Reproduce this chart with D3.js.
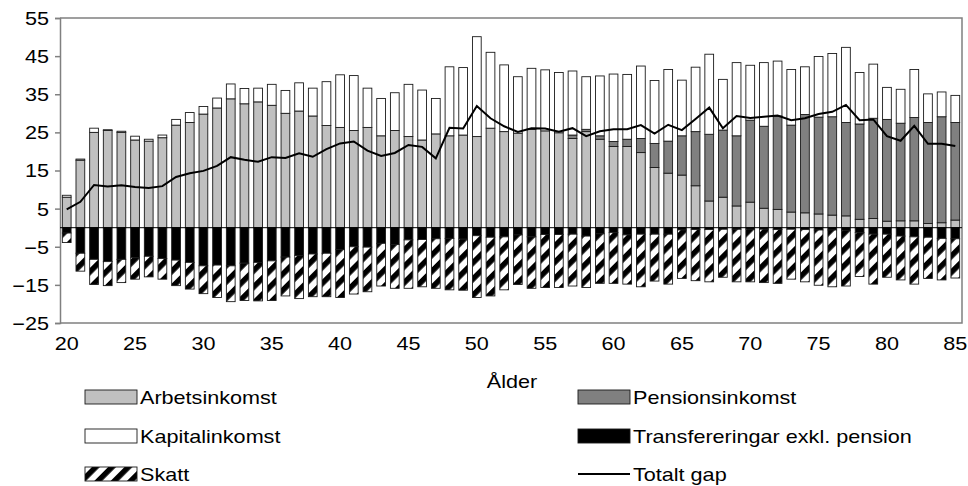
<!DOCTYPE html>
<html lang="sv">
<head>
  <meta charset="utf-8" />
  <title>Gap per ålder</title>
  <script src="https://cdn.jsdelivr.net/npm/d3@7"></script>
  <style>
    html,body{margin:0;padding:0;background:#fff;}
    svg{display:block;font-family:"Liberation Sans",Arial,sans-serif;}
  </style>
</head>
<body>
<svg id="chart" width="968" height="486"></svg>
<script>
// ålder 20..85
const ages = d3.range(20, 86);
const yTicks = [-25, -15, -5, 5, 15, 25, 35, 45, 55];
const xLabels = [20, 25, 30, 35, 40, 45, 50, 55, 60, 65, 70, 75, 80, 85];

const arbete = [8.0,17.7,25.0,25.5,25.0,23.0,22.7,23.6,26.9,27.6,29.8,31.4,33.8,32.5,33.0,32.1,30.0,30.6,29.3,26.8,
  26.3,25.5,26.3,24.1,25.5,23.9,23.0,24.6,24.1,24.3,23.9,26.1,25.2,24.8,25.8,25.4,24.9,23.4,25.2,23.2,
  21.3,21.3,19.7,15.8,14.3,13.8,11.0,7.0,8.0,5.7,6.7,5.1,4.8,4.1,3.9,3.6,3.3,3.1,2.2,2.4,
  1.7,1.8,1.8,1.1,1.3,2.0];
const pension = [0,0,0,0,0,0,0,0,0,0,0,0,0,0,0,0,0,0,0,0,
  0,0,0,0,0,0,0,0,0,0,0,0,0,0,0,0,0,0.9,0.6,0.9,
  1.3,1.9,3.7,6.3,8.4,10.3,14.2,17.5,17.6,18.4,21.5,21.5,24.5,22.8,25.8,25.4,25.8,24.5,25.0,26.3,
  26.7,25.6,27.1,26.5,27.8,25.6];
const kapital = [0.5,0.3,1.1,0.2,0.3,1.0,0.5,0.7,1.5,2.6,2.0,2.6,3.9,4.0,3.6,5.5,6.0,7.4,7.3,11.5,
  13.8,14.4,10.3,9.8,9.9,13.7,13.1,9.3,18.1,17.7,26.2,19.9,17.5,14.8,16.0,16.0,15.8,16.8,13.8,15.7,
  17.7,17.0,19.0,16.5,18.8,14.6,16.9,21.0,13.3,19.2,14.4,16.7,14.4,14.6,12.5,15.9,16.6,19.7,13.5,14.2,
  8.4,8.9,12.6,7.5,6.5,7.1];
const transfer = [-1.4,-6.7,-8.3,-8.9,-8.3,-7.9,-7.5,-8.1,-8.5,-9.1,-10.0,-9.8,-10.0,-9.3,-9.1,-8.7,-7.7,-7.3,-6.9,-6.7,
  -5.7,-5.0,-5.1,-4.1,-4.4,-3.2,-3.1,-2.9,-2.8,-3.0,-2.1,-2.5,-2.4,-1.9,-2.4,-1.8,-1.8,-1.7,-2.2,-1.6,
  -1.3,-1.9,-1.7,-1.7,-1.7,-0.6,-0.5,-0.5,-0.4,-0.4,-0.4,-0.4,-0.5,-0.4,-0.5,-0.6,-0.6,-0.7,-1.3,-1.7,
  -1.7,-2.2,-2.4,-2.5,-2.8,-2.9];
const skatt = [-2.5,-4.7,-6.6,-6.3,-6.1,-5.6,-5.4,-5.4,-6.7,-7.0,-7.3,-8.5,-9.4,-9.8,-10.1,-10.4,-10.2,-11.3,-11.2,-11.4,
  -12.6,-12.4,-11.7,-11.2,-11.5,-12.7,-12.4,-13.0,-13.5,-13.4,-16.2,-15.4,-13.9,-13.0,-13.5,-13.9,-13.9,-13.6,-13.5,-13.0,
  -13.3,-12.9,-13.8,-12.3,-13.1,-12.7,-13.4,-13.7,-12.6,-13.8,-13.8,-14.0,-14.1,-13.1,-13.7,-14.5,-14.9,-14.6,-11.5,-13.1,
  -11.3,-11.5,-12.4,-10.8,-10.9,-10.3];
const totaltGap = [4.8,6.8,11.2,10.8,11.1,10.7,10.4,10.9,13.3,14.3,14.9,16.2,18.5,17.8,17.3,18.5,18.3,19.5,18.6,20.6,
  22.1,22.6,20.2,18.8,19.6,21.7,21.2,18.2,26.2,26.0,31.9,28.7,26.6,25.1,26.1,26.0,25.2,26.1,24.0,25.3,
  25.8,25.8,26.9,24.7,27.0,25.6,28.5,31.5,26.1,29.3,28.8,29.1,29.4,28.2,28.7,29.8,30.4,32.2,28.2,28.4,
  24.0,22.8,26.7,22.0,22.0,21.4];

const series = [
  {name:'Arbetsinkomst', vals:arbete, fill:'#c0c0c0'},
  {name:'Pensionsinkomst', vals:pension, fill:'#808080'},
  {name:'Kapitalinkomst', vals:kapital, fill:'#ffffff'},
  {name:'Transfereringar exkl. pension', vals:transfer, fill:'#000000'},
  {name:'Skatt', vals:skatt, fill:'url(#hatch)'}
];

const L = 60, R = 962, T = 18, B = 323;
const FS = 18, SX = 1.2;   // texten i originalet är utdragen på bredden
const svg = d3.select('#chart');

const defs = svg.append('defs');
const pat = defs.append('pattern').attr('id','hatch').attr('patternUnits','userSpaceOnUse')
  .attr('width',11.5).attr('height',11.5).attr('patternTransform','rotate(45)');
pat.append('rect').attr('width',11.5).attr('height',11.5).attr('fill','#fff');
pat.append('rect').attr('width',5.5).attr('height',11.5).attr('fill','#000');

const x = d3.scaleBand().domain(ages).range([L, R]).paddingInner(0.36).paddingOuter(0.17);
const y = d3.scaleLinear().domain([-25, 55]).range([B, T]);

// stapla: positiva uppåt från 0, negativa nedåt
const rects = [];
ages.forEach((a, i) => {
  let pos = 0, neg = 0;
  series.forEach(s => {
    const v = s.vals[i];
    if (!v) return;
    if (v > 0) { rects.push({a, y0:pos, y1:pos+v, fill:s.fill}); pos += v; }
    else { rects.push({a, y0:neg+v, y1:neg, fill:s.fill}); neg += v; }
  });
});

svg.append('g').selectAll('rect').data(rects).join('rect')
  .attr('x', d => x(d.a))
  .attr('width', x.bandwidth())
  .attr('y', d => y(d.y1))
  .attr('height', d => y(d.y0) - y(d.y1))
  .attr('fill', d => d.fill)
  .attr('stroke', '#1a1a1a')
  .attr('stroke-width', 0.9);

// ram
svg.append('path').attr('d', `M${L},${T}H${R}V${B}H${L}`)
  .attr('fill','none').attr('stroke','#808080').attr('stroke-width',1.5);

// y-axel
const yAxis = svg.append('g').attr('transform', `translate(${L},0)`)
  .call(d3.axisLeft(y).tickValues(yTicks).tickSize(5).tickPadding(0));
yAxis.select('.domain').attr('stroke','#808080').attr('stroke-width',1.5);
yAxis.selectAll('.tick line').attr('stroke','#808080').attr('stroke-width',1.5);
yAxis.selectAll('text').attr('x',0).attr('dy','0.36em')
  .attr('transform',`translate(-11,0) scale(${SX},1)`)
  .attr('font-size',FS).attr('fill','#000')
  .attr('font-family','"Liberation Sans",Arial,sans-serif');

// nollinje
svg.append('line').attr('x1',L).attr('x2',R).attr('y1',y(0)).attr('y2',y(0))
  .attr('stroke','#000').attr('stroke-width',1);

// linje
const line = d3.line().x((d,i) => x(ages[i]) + x.bandwidth()/2).y(d => y(d));
svg.append('path').datum(totaltGap).attr('d', line)
  .attr('fill','none').attr('stroke','#000').attr('stroke-width',2);

// x-etiketter
svg.append('g').selectAll('text').data(xLabels).join('text')
  .attr('transform', d => `translate(${x(d) + x.bandwidth()/2},350) scale(${SX},1)`)
  .attr('text-anchor','middle').attr('font-size',FS).text(d => d);
svg.append('text').attr('transform',`translate(512,388) scale(${SX},1)`).attr('text-anchor','middle')
  .attr('font-size',FS).text('Ålder');

// legend
const legend = [
  {name:'Arbetsinkomst', fill:'#c0c0c0', col:0, row:0},
  {name:'Pensionsinkomst', fill:'#808080', col:1, row:0},
  {name:'Kapitalinkomst', fill:'#ffffff', col:0, row:1},
  {name:'Transfereringar exkl. pension', fill:'#000000', col:1, row:1},
  {name:'Skatt', fill:'url(#hatch)', col:0, row:2},
  {name:'Totalt gap', line:true, col:1, row:2}
];
const colX = [85, 578], rowY = [397, 436, 474];
const lg = svg.append('g').selectAll('g').data(legend).join('g')
  .attr('transform', d => `translate(${colX[d.col]},${rowY[d.row]})`);
lg.filter(d => !d.line).append('rect')
  .attr('x',0).attr('y',-7).attr('width',52).attr('height',14)
  .attr('fill', d => d.fill).attr('stroke','#1a1a1a').attr('stroke-width',0.9);
lg.filter(d => d.line).append('line')
  .attr('x1',0).attr('x2',52).attr('y1',0).attr('y2',0).attr('stroke','#000').attr('stroke-width',2);
lg.append('text').attr('transform',`translate(55,6.5) scale(${SX},1)`)
  .attr('font-size',FS).text(d => d.name);
</script>
</body>
</html>
